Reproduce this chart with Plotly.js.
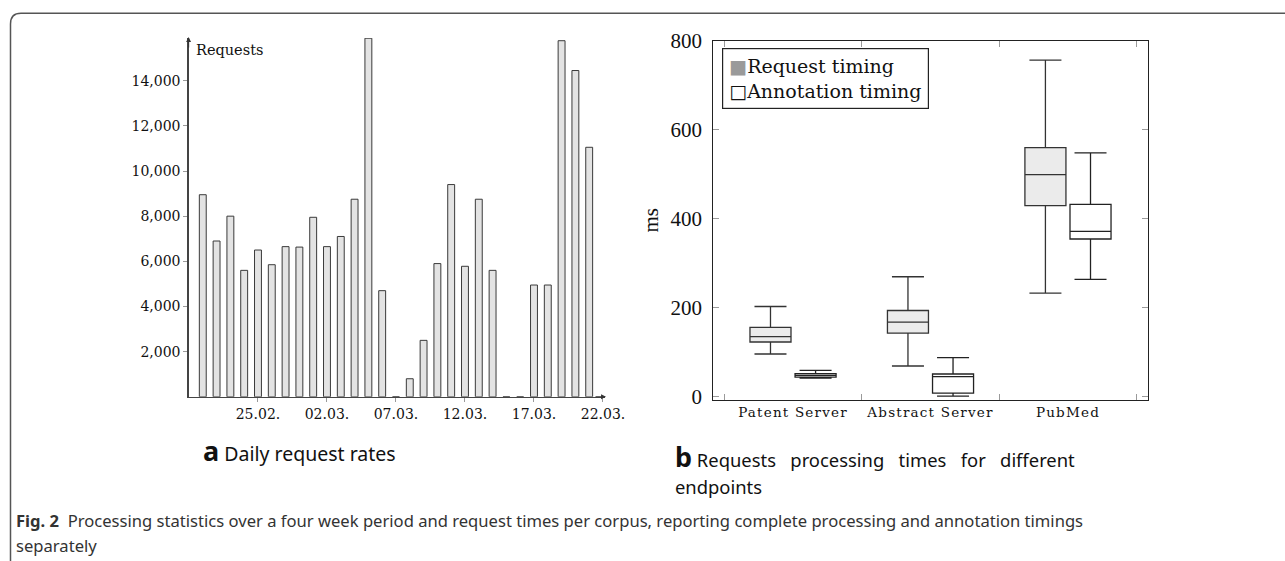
<!DOCTYPE html>
<html>
<head>
<meta charset="utf-8">
<script src="https://cdn.plot.ly/plotly-3.0.1.min.js"></script>
<style>
  html, body { margin: 0; padding: 0; background: #fff; }
  #chart { width: 1285px; height: 561px; }
  .x2tick text { letter-spacing: 1.2px; }
</style>
</head>
<body>
<div id="chart"></div>
<script>
// ---------- Panel a: daily request rates ----------
const dayDates = [
  '2019-02-21','2019-02-22','2019-02-23','2019-02-24','2019-02-25','2019-02-26','2019-02-27','2019-02-28',
  '2019-03-01','2019-03-02','2019-03-03','2019-03-04','2019-03-05','2019-03-06','2019-03-07','2019-03-08',
  '2019-03-09','2019-03-10','2019-03-11','2019-03-12','2019-03-13','2019-03-14','2019-03-15','2019-03-16',
  '2019-03-17','2019-03-18','2019-03-19','2019-03-20','2019-03-21'
];
const dailyRequests = [
  8950, 6900, 8000, 5600, 6500, 5850, 6650, 6630,
  7950, 6650, 7100, 8750, 15880, 4700, 0, 800,
  2500, 5900, 9400, 5780, 8750, 5600, 0, 0,
  4950, 4950, 15770, 14450, 11050
];
const dateTickVals = ['2019-02-25','2019-03-02','2019-03-07','2019-03-12','2019-03-17','2019-03-22'];
const requestTickVals = [2000, 4000, 6000, 8000, 10000, 12000, 14000];

// ---------- Panel b: processing times (ms) ----------
const endpoints = ['Patent Server', 'Abstract Server', 'PubMed'];
const seriesNames = ['Request timing', 'Annotation timing'];
const reqLower  = [95, 68, 232];
const reqQ1     = [122, 142, 429];
const reqMedian = [134, 167, 499];
const reqQ3     = [155, 193, 560];
const reqUpper  = [202, 269, 757];
const annLower  = [41, 0, 263];
const annQ1     = [43, 7, 354];
const annMedian = [47, 44, 371];
const annQ3     = [51, 50, 432];
const annUpper  = [58, 87, 548];
const msTickVals = [0, 200, 400, 600, 800];

const W = 1285, H = 561;
const px = v => v / W;
const py = v => 1 - v / H;

const serif = 'DejaVu Serif, serif';
const serif2 = 'Liberation Serif, Times New Roman, serif';
const sans = 'Noto Sans, Open Sans, sans-serif';
const gap3 = '\u00a0\u00a0 ';

const traces = [
  {
    type: 'bar', x: dayDates, y: dailyRequests,
    xaxis: 'x', yaxis: 'y',
    width: 0.5 * 86400000,
    marker: { color: '#e3e3e3', line: { color: '#3a3a3a', width: 1 } },
    showlegend: false, hoverinfo: 'x+y'
  },
  {
    type: 'box', name: seriesNames[0], x: endpoints,
    q1: reqQ1, median: reqMedian, q3: reqQ3, lowerfence: reqLower, upperfence: reqUpper,
    xaxis: 'x2', yaxis: 'y2',
    fillcolor: '#ebebeb', line: { color: '#333333', width: 1.3 },
    whiskerwidth: 0.78, boxpoints: false, showlegend: false
  },
  {
    type: 'box', name: seriesNames[1], x: endpoints,
    q1: annQ1, median: annMedian, q3: annQ3, lowerfence: annLower, upperfence: annUpper,
    xaxis: 'x2', yaxis: 'y2',
    fillcolor: '#ffffff', line: { color: '#222222', width: 1.3 },
    whiskerwidth: 0.78, boxpoints: false, showlegend: false
  }
];

const yTopA = 38, yBotA = 396.8;
const layout = {
  width: W, height: H,
  margin: { l: 0, r: 0, t: 0, b: 0 },
  paper_bgcolor: '#ffffff', plot_bgcolor: 'rgba(0,0,0,0)',
  showlegend: false,
  boxmode: 'group', boxgap: 0.344, boxgroupgap: 0.09,
  xaxis: {
    type: 'date',
    domain: [px(188.5), px(605)],
    range: ['2019-02-19 23:10', '2019-03-22 03:30'],
    tickvals: dateTickVals, tickformat: '%d.%m.',
    ticks: 'outside', ticklen: 4, tickcolor: '#9a9a9a',
    showline: true, linecolor: '#444', linewidth: 1.2,
    showgrid: false, zeroline: false,
    tickfont: { family: serif, size: 14, color: '#111' },
    anchor: 'y', fixedrange: true
  },
  yaxis: {
    domain: [py(yBotA), py(yTopA)],
    range: [0, 15890],
    tickvals: requestTickVals, tickformat: ',',
    ticks: 'outside', ticklen: 4, tickcolor: '#9a9a9a',
    showline: true, linecolor: '#444', linewidth: 1.2,
    showgrid: false, zeroline: false,
    tickfont: { family: serif, size: 14, color: '#111' },
    anchor: 'x', fixedrange: true
  },
  xaxis2: {
    type: 'category',
    domain: [px(713.3), px(1147.7)],
    range: [-0.58, 2.58],
    tickson: 'boundaries',
    ticks: 'inside', ticklen: 6, tickcolor: '#9a9a9a',
    mirror: 'ticks',
    showline: true, linecolor: '#222', linewidth: 1.2,
    showgrid: false, zeroline: false,
    tickfont: { family: serif, size: 13.5, color: '#111' },
    anchor: 'y2', fixedrange: true
  },
  yaxis2: {
    domain: [py(400), py(40.7)],
    range: [-8.6, 800.7],
    tickvals: msTickVals,
    ticks: 'inside', ticklen: 6, tickcolor: '#9a9a9a',
    mirror: 'ticks',
    showline: true, linecolor: '#222', linewidth: 1.2,
    showgrid: false, zeroline: false,
    ticklabelstandoff: 6,
    tickfont: { family: serif2, size: 21, color: '#111' },
    title: { text: 'ms', font: { family: serif2, size: 21, color: '#111' }, standoff: 6 },
    anchor: 'x2', fixedrange: true
  },
  shapes: [
    {
      type: 'path', xref: 'paper', yref: 'paper',
      path: 'M ' + px(10.5) + ',' + py(561) + ' L ' + px(10.5) + ',' + py(24) +
            ' Q ' + px(10.5) + ',' + py(13.3) + ' ' + px(21) + ',' + py(13.3) +
            ' L ' + px(1285) + ',' + py(13.3),
      line: { color: '#555', width: 1.5 }
    }
  ],
  annotations: [
    // axis arrows for panel a
    { xref: 'paper', yref: 'paper', x: px(188.6), y: py(yTopA - 1), ax: 0, ay: 12,
      showarrow: true, arrowhead: 2, arrowsize: 0.9, arrowwidth: 1.1, arrowcolor: '#333', text: '' },
    { xref: 'paper', yref: 'paper', x: px(606), y: py(yBotA), ax: -12, ay: 0,
      showarrow: true, arrowhead: 2, arrowsize: 0.9, arrowwidth: 1.1, arrowcolor: '#333', text: '' },
    { xref: 'paper', yref: 'paper', x: px(194), y: py(50.5), xanchor: 'left', yanchor: 'middle',
      showarrow: false, text: 'Requests', font: { family: serif, size: 14.5, color: '#111' } },
    // legend for panel b
    { xref: 'paper', yref: 'paper', x: px(721.7), y: py(48.3), xanchor: 'left', yanchor: 'top',
      showarrow: false, align: 'left',
      text: '<span style="color:#9a9a9a">■</span>' + seriesNames[0] + '<br>□' + seriesNames[1],
      font: { family: serif, size: 19, color: '#111' },
      bordercolor: '#222', borderwidth: 1.2, borderpad: 6, bgcolor: '#ffffff' },
    // sub-captions
    { xref: 'paper', yref: 'paper', x: px(201), y: py(450), xanchor: 'left', yanchor: 'middle',
      showarrow: false,
      text: '<b><span style="font-size:27px">a</span></b> Daily request rates',
      font: { family: sans, size: 19.5, color: '#111' } },
    { xref: 'paper', yref: 'paper', x: px(673), y: py(456), xanchor: 'left', yanchor: 'middle',
      showarrow: false,
      text: '<b><span style="font-size:27px">b</span></b> Requests' + gap3 + 'processing' + gap3 +
            'times' + gap3 + 'for' + gap3 + 'different',
      font: { family: sans, size: 18.4, color: '#111' } },
    { xref: 'paper', yref: 'paper', x: px(673), y: py(486), xanchor: 'left', yanchor: 'middle',
      showarrow: false, text: 'endpoints',
      font: { family: sans, size: 18.4, color: '#111' } },
    // figure caption
    { xref: 'paper', yref: 'paper', x: px(14), y: py(520), xanchor: 'left', yanchor: 'middle',
      showarrow: false,
      text: '<b>Fig. 2</b>\u00a0 Processing statistics over a four week period and request times per corpus, reporting complete processing and annotation timings',
      font: { family: sans, size: 16.6, color: '#333' } },
    { xref: 'paper', yref: 'paper', x: px(14), y: py(545), xanchor: 'left', yanchor: 'middle',
      showarrow: false, text: 'separately',
      font: { family: sans, size: 16.6, color: '#333' } }
  ]
};

Plotly.newPlot('chart', traces, layout, { displayModeBar: false, staticPlot: true });
</script>
</body>
</html>
